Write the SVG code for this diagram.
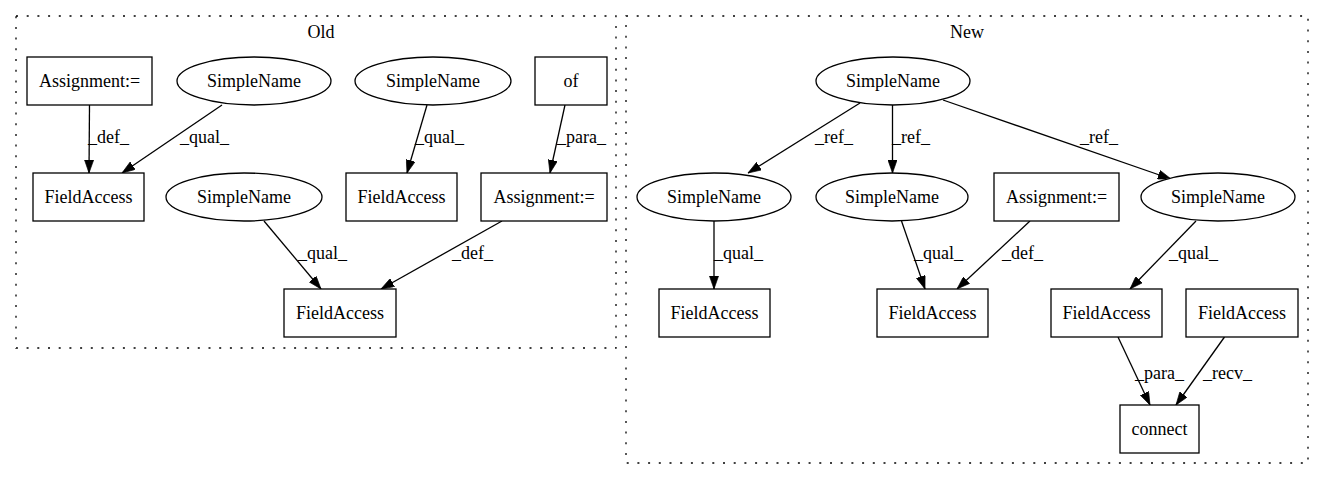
<svg xmlns="http://www.w3.org/2000/svg" width="1325" height="480" viewBox="0 0 1325 480" font-family="'Liberation Serif', 'Times New Roman', Times, serif" font-size="18">
<style>
text{font-family:'Liberation Serif','Times New Roman',Times,serif;font-size:18px;fill:#000}
.n{fill:#fff;stroke:#000;stroke-width:1.3}
.c{fill:none;stroke:#000;stroke-width:1.3;stroke-dasharray:2,8.7}
.e{fill:none;stroke:#000;stroke-width:1.3;marker-end:url(#ah)}
.m{text-anchor:middle}
</style>
<defs>
<marker id="ah" viewBox="0 0 10 7" refX="10" refY="3.5" markerWidth="13" markerHeight="9.3" markerUnits="userSpaceOnUse" orient="auto">
<polygon points="0,0 10,3.5 0,7" fill="#000" stroke="#000" stroke-width="0.5"/>
</marker>
</defs>
<rect width="1325" height="480" fill="#fff"/>
<g id="cluster_old">
<rect class="c" x="16" y="16" width="600" height="332"/>
<text class="m" x="321" y="38">Old</text>
</g>
<g id="cluster_new">
<rect class="c" x="626" y="16" width="682" height="447"/>
<text class="m" x="967" y="38">New</text>
</g>
<g id="edges">
<path class="e" d="M89.5,105 L89,173"/>
<text x="88" y="143">_def_</text>
<path class="e" d="M222,105 L122,173"/>
<text x="180" y="143">_qual_</text>
<path class="e" d="M427,105 L407,173"/>
<text x="415" y="143">_qual_</text>
<path class="e" d="M565,105 L550,173"/>
<text x="557" y="143">_para_</text>
<path class="e" d="M264,221 L321,289"/>
<text x="298" y="259">_qual_</text>
<path class="e" d="M502,221 L381,289"/>
<text x="452" y="259">_def_</text>
<path class="e" d="M860,103 L748,173"/>
<text x="815" y="143">_ref_</text>
<path class="e" d="M892.5,105 L892.5,173"/>
<text x="892" y="143">_ref_</text>
<path class="e" d="M943,100 L1171,179"/>
<text x="1080" y="143">_ref_</text>
<path class="e" d="M714,221 L714,289"/>
<text x="714" y="259">_qual_</text>
<path class="e" d="M901.5,221 L925,289"/>
<text x="914" y="259">_qual_</text>
<path class="e" d="M1030,221 L957,289"/>
<text x="1002" y="259">_def_</text>
<path class="e" d="M1196,221 L1130,289"/>
<text x="1169" y="259">_qual_</text>
<path class="e" d="M1118,337 L1150,405"/>
<text x="1135" y="379">_para_</text>
<path class="e" d="M1224.5,337 L1176,405"/>
<text x="1203" y="379">_recv_</text>
</g>
<g id="old_assign1"><rect class="n" x="27" y="57" width="125" height="48"/><text class="m" x="89.5" y="87">Assignment:=</text></g>
<g id="old_sn1"><ellipse class="n" cx="254" cy="81" rx="77" ry="24"/><text class="m" x="254" y="87">SimpleName</text></g>
<g id="old_sn2"><ellipse class="n" cx="433" cy="81" rx="78" ry="24"/><text class="m" x="433" y="87">SimpleName</text></g>
<g id="old_of"><rect class="n" x="535" y="57" width="72" height="48"/><text class="m" x="571" y="87">of</text></g>
<g id="old_fa1"><rect class="n" x="33" y="173" width="111" height="48"/><text class="m" x="88.5" y="203">FieldAccess</text></g>
<g id="old_sn3"><ellipse class="n" cx="244" cy="197" rx="78" ry="24"/><text class="m" x="244" y="203">SimpleName</text></g>
<g id="old_fa2"><rect class="n" x="346" y="173" width="111" height="48"/><text class="m" x="401.5" y="203">FieldAccess</text></g>
<g id="old_assign2"><rect class="n" x="481" y="173" width="126" height="48"/><text class="m" x="544" y="203">Assignment:=</text></g>
<g id="old_fa3"><rect class="n" x="284" y="289" width="112" height="48"/><text class="m" x="340" y="319">FieldAccess</text></g>
<g id="new_sn_top"><ellipse class="n" cx="893" cy="81" rx="77" ry="24"/><text class="m" x="893" y="87">SimpleName</text></g>
<g id="new_sn_l"><ellipse class="n" cx="714" cy="197" rx="77" ry="24"/><text class="m" x="714" y="203">SimpleName</text></g>
<g id="new_sn_m"><ellipse class="n" cx="892" cy="197" rx="76" ry="24"/><text class="m" x="892" y="203">SimpleName</text></g>
<g id="new_assign"><rect class="n" x="994" y="173" width="125" height="48"/><text class="m" x="1056.5" y="203">Assignment:=</text></g>
<g id="new_sn_r"><ellipse class="n" cx="1218" cy="197" rx="77" ry="24"/><text class="m" x="1218" y="203">SimpleName</text></g>
<g id="new_fa_l"><rect class="n" x="659" y="289" width="111" height="48"/><text class="m" x="714.5" y="319">FieldAccess</text></g>
<g id="new_fa_m"><rect class="n" x="877" y="289" width="111" height="48"/><text class="m" x="932.5" y="319">FieldAccess</text></g>
<g id="new_fa_r1"><rect class="n" x="1051" y="289" width="111" height="48"/><text class="m" x="1106.5" y="319">FieldAccess</text></g>
<g id="new_fa_r2"><rect class="n" x="1186" y="289" width="112" height="48"/><text class="m" x="1242" y="319">FieldAccess</text></g>
<g id="new_connect"><rect class="n" x="1120" y="405" width="79" height="48"/><text class="m" x="1159.5" y="435">connect</text></g>
</svg>
